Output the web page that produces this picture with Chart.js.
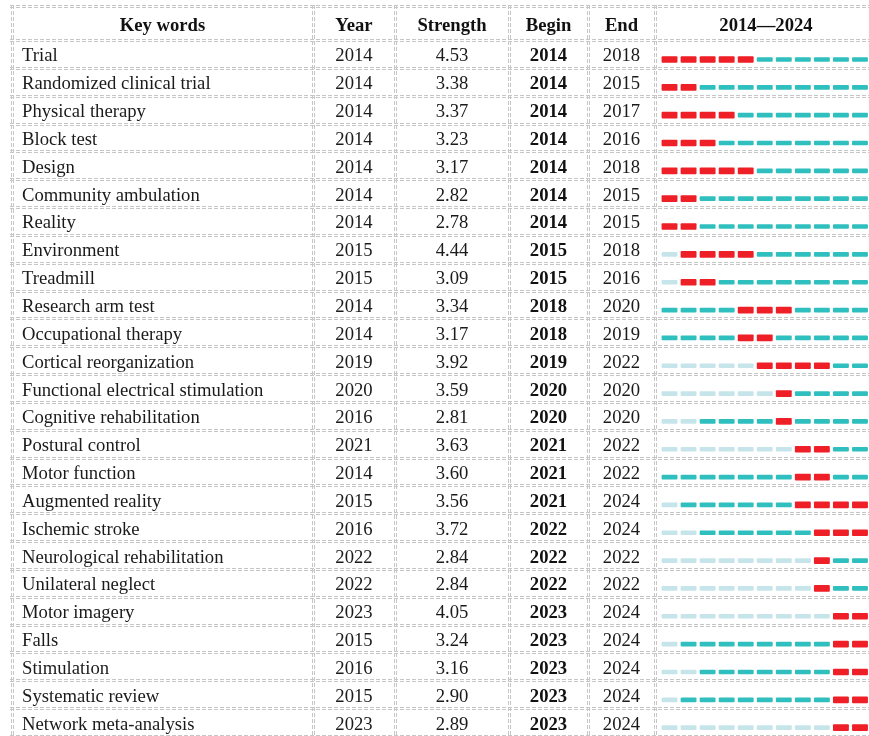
<!DOCTYPE html>
<html>
<head>
<meta charset="utf-8">
<script src="https://cdn.jsdelivr.net/npm/chart.js@4.4.1/dist/chart.umd.min.js"></script>
<style>
  html, body { margin: 0; padding: 0; background: #fff; overflow: hidden; }
  #wrap { width: 869px; height: 736px; overflow: hidden; }
  canvas { display: block; }
</style>
</head>
<body>
<div id="wrap"><canvas id="burst" width="900" height="736"></canvas></div>
<script>
// keyword bursts, one row per keyword
const keywords = [
  'Trial', 'Randomized clinical trial', 'Physical therapy', 'Block test', 'Design',
  'Community ambulation', 'Reality', 'Environment', 'Treadmill', 'Research arm test',
  'Occupational therapy', 'Cortical reorganization', 'Functional electrical stimulation',
  'Cognitive rehabilitation', 'Postural control', 'Motor function', 'Augmented reality',
  'Ischemic stroke', 'Neurological rehabilitation', 'Unilateral neglect', 'Motor imagery',
  'Falls', 'Stimulation', 'Systematic review', 'Network meta-analysis'
];
const firstYear = [2014, 2014, 2014, 2014, 2014, 2014, 2014, 2015, 2015, 2014, 2014, 2019, 2020,
  2016, 2021, 2014, 2015, 2016, 2022, 2022, 2023, 2015, 2016, 2015, 2023];
const strength = [4.53, 3.38, 3.37, 3.23, 3.17, 2.82, 2.78, 4.44, 3.09, 3.34, 3.17, 3.92, 3.59,
  2.81, 3.63, 3.60, 3.56, 3.72, 2.84, 2.84, 4.05, 3.24, 3.16, 2.90, 2.89];
const beginYear = [2014, 2014, 2014, 2014, 2014, 2014, 2014, 2015, 2015, 2018, 2018, 2019, 2020,
  2020, 2021, 2021, 2021, 2022, 2022, 2022, 2023, 2023, 2023, 2023, 2023];
const endYear = [2018, 2015, 2017, 2016, 2018, 2015, 2015, 2018, 2016, 2020, 2019, 2022, 2020,
  2020, 2022, 2022, 2024, 2024, 2022, 2022, 2024, 2024, 2024, 2024, 2024];
const years = [2014, 2015, 2016, 2017, 2018, 2019, 2020, 2021, 2022, 2023, 2024];
const headers = ['Key words', 'Year', 'Strength', 'Begin', 'End', '2014\u20142024'];

const RED = '#ee1f26', TEAL = '#2fbfbf', PALE = '#c6e5ea';
const LINE = '#c6c6c6';
const FONT = '"Liberation Serif", "Times New Roman", serif';
const colEdges = [12, 313, 395, 509, 588, 655, 877];

// pale = before the keyword first shows up, active = present, burst = red
function segments(kind) {
  const out = [];
  keywords.forEach((k, i) => {
    years.forEach(yr => {
      let s = 'active';
      if (yr < firstYear[i]) s = 'pale';
      else if (yr >= beginYear[i] && yr <= endYear[i]) s = 'burst';
      if (s === kind) out.push({ x: [yr + 0.1, yr + 0.9], y: i + 0.7 });
    });
  });
  return out;
}

const tablePlugin = {
  id: 'table',
  beforeDatasetsDraw(chart) {
    const { ctx, scales: { y } } = chart;
    const top = 6;
    ctx.save();
    ctx.strokeStyle = LINE;
    ctx.lineWidth = 1;
    ctx.setLineDash([4, 2]);
    const hline = yy => {
      for (const d of [-1, 1]) {
        const p = Math.round(yy) + d + 0.5;
        ctx.beginPath(); ctx.moveTo(colEdges[0] - 2, p); ctx.lineTo(chart.width, p); ctx.stroke();
      }
    };
    const vline = xx => {
      for (const d of [-1, 1]) {
        const p = Math.round(xx) + d + 0.5;
        ctx.beginPath(); ctx.moveTo(p, top - 1); ctx.lineTo(p, chart.height); ctx.stroke();
      }
    };
    hline(top);
    for (let i = 0; i <= keywords.length; i++) hline(y.getPixelForValue(i));
    colEdges.forEach(vline);
    ctx.restore();
  },
  afterDatasetsDraw(chart) {
    const { ctx, scales: { y } } = chart;
    const mid = c => (colEdges[c] + colEdges[c + 1]) / 2;
    ctx.save();
    ctx.textBaseline = 'alphabetic';
    ctx.fillStyle = '#111';
    // header
    ctx.font = 'bold 18.67px ' + FONT;
    const hy = (6 + y.getPixelForValue(0)) / 2 + 7.5;
    headers.forEach((h, c) => {
      ctx.textAlign = 'center';
      ctx.fillText(h, mid(c), hy);
    });
    // rows
    keywords.forEach((k, i) => {
      const by = y.getPixelForValue(i + 0.5) + 7.5;
      ctx.font = '18.67px ' + FONT;
      ctx.fillStyle = '#1a1a1a';
      ctx.textAlign = 'left';
      ctx.fillText(k, colEdges[0] + 10, by);
      ctx.textAlign = 'center';
      ctx.fillText(String(firstYear[i]), mid(1), by);
      ctx.fillText(strength[i].toFixed(2), mid(2), by);
      ctx.fillText(String(endYear[i]), mid(4), by);
      ctx.font = 'bold 18.67px ' + FONT;
      ctx.fillStyle = '#111';
      ctx.fillText(String(beginYear[i]), mid(3), by);
    });
    ctx.restore();
  }
};

const barOpts = { grouped: false, borderWidth: 0, borderSkipped: false, borderRadius: 1 };

new Chart(document.getElementById('burst'), {
  type: 'bar',
  data: {
    datasets: [
      { label: 'pale', data: segments('pale'), backgroundColor: PALE, barThickness: 4, ...barOpts },
      { label: 'active', data: segments('active'), backgroundColor: TEAL, barThickness: 4, ...barOpts },
      { label: 'burst', data: segments('burst'), backgroundColor: RED, barThickness: 6, ...barOpts }
    ]
  },
  options: {
    indexAxis: 'y',
    responsive: false,
    animation: false,
    devicePixelRatio: 1,
    layout: { padding: { left: 660, right: 30.5, top: 40, bottom: 0 } },
    scales: {
      x: { type: 'linear', min: years[0], max: years[years.length - 1] + 1, offset: false, display: false },
      y: { type: 'linear', min: 0, max: keywords.length, reverse: true, offset: false, display: false }
    },
    plugins: { legend: { display: false }, tooltip: { enabled: false } }
  },
  plugins: [tablePlugin]
});
</script>
</body>
</html>
